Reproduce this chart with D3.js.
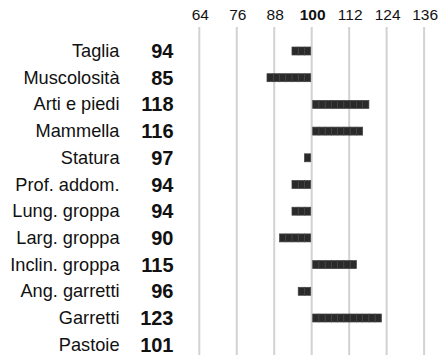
<!DOCTYPE html>
<html>
<head>
<meta charset="utf-8">
<script src="https://cdn.jsdelivr.net/npm/d3@7"></script>
<style>
  html, body { margin: 0; padding: 0; background: #fff; }
  svg { display: block; font-family: "Liberation Sans", Arial, sans-serif; }
</style>
</head>
<body>
<svg id="chart" width="439" height="355"></svg>
<script>
// Morphological trait indices (100 = breed average)
const traits = ["Taglia", "Muscolosità", "Arti e piedi", "Mammella", "Statura",
  "Prof. addom.", "Lung. groppa", "Larg. groppa", "Inclin. groppa",
  "Ang. garretti", "Garretti", "Pastoie"];
const scores = [94, 85, 118, 116, 97, 94, 94, 90, 115, 96, 123, 101];
const tickValues = [64, 76, 88, 100, 112, 124, 136];
const baseValue = 100;
const unitsPerBlock = 2;

const svg = d3.select("#chart");

const x = d3.scaleLinear().domain([64, 136]).range([199.3, 424.1]);
const y = d3.scalePoint().domain(traits).range([51, 344.7]);

// vertical gridlines
svg.append("g").selectAll("line").data(tickValues).join("line")
  .attr("x1", d => x(d)).attr("x2", d => x(d))
  .attr("y1", 27).attr("y2", 355)
  .attr("stroke", "#d2d2d2").attr("stroke-width", 2);

// tick labels on top
svg.append("g").selectAll("text").data(tickValues).join("text")
  .attr("x", d => x(d) + 1).attr("y", 20)
  .attr("text-anchor", "middle")
  .attr("font-size", 15.5)
  .attr("font-weight", d => d === baseValue ? "bold" : "normal")
  .attr("fill", "#111")
  .text(d => d);

// trait names
svg.append("g").selectAll("text").data(traits).join("text")
  .attr("x", 119.5).attr("y", d => y(d) + 6)
  .attr("text-anchor", "end")
  .attr("font-size", 18.2)
  .attr("fill", "#111")
  .text(d => d);

// score values
svg.append("g").selectAll("text").data(scores).join("text")
  .attr("x", 173.5).attr("y", (d, i) => y(traits[i]) + 7)
  .attr("text-anchor", "end")
  .attr("font-size", 20)
  .attr("font-weight", "bold")
  .attr("fill", "#111")
  .text(d => d);

// segmented bars: one block per 2 index points away from 100
const blockW = x(baseValue + unitsPerBlock) - x(baseValue);
const blocks = [];
scores.forEach((v, i) => {
  const n = Math.floor(Math.abs(v - baseValue) / unitsPerBlock);
  const dir = v >= baseValue ? 1 : -1;
  for (let k = 0; k < n; k++) {
    const a = baseValue + dir * k * unitsPerBlock;
    const b = baseValue + dir * (k + 1) * unitsPerBlock;
    blocks.push({ trait: traits[i], x0: Math.min(x(a), x(b)) + dir, w: blockW });
  }
});

svg.append("g").selectAll("rect").data(blocks).join("rect")
  .attr("x", d => d.x0).attr("y", d => y(d.trait) - 4)
  .attr("width", d => d.w).attr("height", 8)
  .attr("fill", "#2a2a2a")
  .attr("stroke", "#444").attr("stroke-width", 0.7);
</script>
</body>
</html>
